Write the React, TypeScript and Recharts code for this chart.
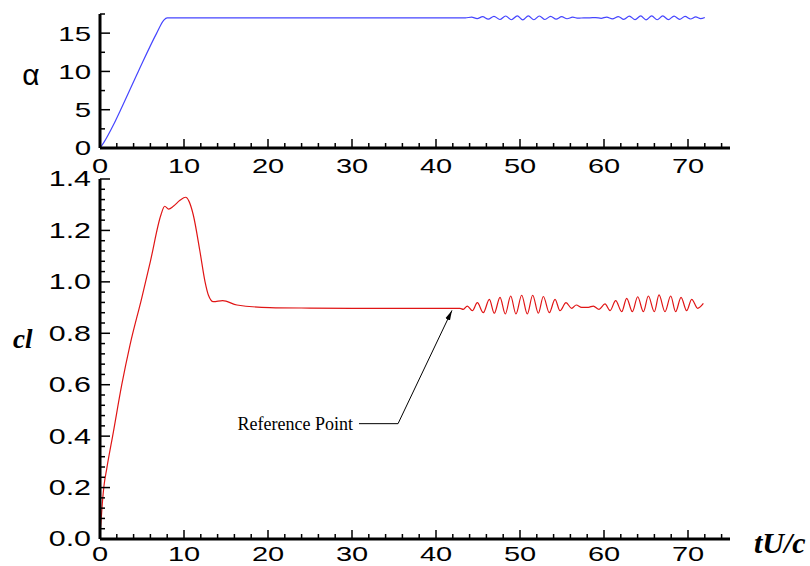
import React from 'react';
import { LineChart, Line, XAxis, YAxis, ReferenceLine, Label } from 'recharts';

// ---- data: angle of attack alpha vs tU/c ----
const alphaT = [0, 0.5, 1.59, 2.46, 4.56, 6.75, 7.6, 8.0, 20, 30, 40, 43.5,
  44.24, 44.9, 45.55, 46.22, 46.9, 47.6, 48.29, 48.98, 49.68, 50.33,
  50.99, 51.65, 52.3, 52.97, 53.65, 54.3, 54.96, 55.6, 56.27, 56.95,
  57.6, 58.3, 59.0, 59.66, 60.32, 61.0, 61.71, 62.36, 63.02, 63.7,
  64.37, 65.0, 65.68, 66.33, 66.99, 67.66, 68.34, 69.0, 69.65, 70.3,
  70.92, 71.5, 72.0];
const alphaV = [0, 0.8, 3.0, 5, 10, 15, 16.7, 17, 17, 17, 17, 17,
  17.08, 16.9, 17.15, 16.83, 17.2, 16.78, 17.24, 16.75, 17.26, 16.74,
  17.26, 16.75, 17.24, 16.78, 17.2, 16.82, 17.15, 16.88, 17.08, 16.95,
  17.0, 17.0, 17.03, 16.94, 17.1, 16.87, 17.17, 16.8, 17.22, 16.76,
  17.25, 16.74, 17.26, 16.75, 17.25, 16.77, 17.22, 16.8, 17.18, 16.85,
  17.12, 16.9, 17.05];

// ---- data: lift coefficient cl vs tU/c ----
const clT = [0, 0.1, 0.32, 0.48, 0.8, 1.59, 2.58, 3.57, 4.96, 6.0,
  7.26, 7.7, 8.17, 8.73, 9.52, 10.2, 10.6, 11.1, 11.9, 12.5,
  12.9, 13.5, 14.6, 16.3, 20.2, 25, 30, 35, 40, 42.86,
  43.25, 43.73, 44.33, 44.92, 45.63, 46.35, 46.94, 47.62, 48.25, 48.89,
  49.52, 50.2, 50.87, 51.51, 52.18, 52.78, 53.49, 54.17, 54.76, 55.48,
  56.15, 56.7, 57.34, 58.14, 58.73, 59.41, 60.12, 60.72, 61.39, 62.11,
  62.7, 63.38, 64.01, 64.69, 65.28, 65.99, 66.55, 67.26, 67.94, 68.53,
  69.17, 69.84, 70.44, 71.15, 71.83];
const clV = [0.02, 0.06, 0.156, 0.208, 0.273, 0.416, 0.598, 0.754, 0.936, 1.08,
  1.261, 1.294, 1.283, 1.294, 1.317, 1.329, 1.313, 1.261, 1.118, 1.001,
  0.949, 0.923, 0.927, 0.91, 0.9, 0.898, 0.897, 0.897, 0.897, 0.897,
  0.893, 0.906, 0.888, 0.919, 0.88, 0.932, 0.878, 0.94, 0.875, 0.945,
  0.875, 0.948, 0.875, 0.948, 0.878, 0.943, 0.88, 0.932, 0.888, 0.919,
  0.897, 0.91, 0.901, 0.901, 0.906, 0.893, 0.914, 0.888, 0.927, 0.884,
  0.936, 0.884, 0.942, 0.884, 0.945, 0.884, 0.949, 0.884, 0.945, 0.884,
  0.94, 0.888, 0.932, 0.897, 0.916];

// ---- ticks ----
const timeTicks = [0, 2, 4, 6, 8, 10, 12, 14, 16, 18, 20, 22, 24, 26, 28, 30, 32, 34, 36, 38,
  40, 42, 44, 46, 48, 50, 52, 54, 56, 58, 60, 62, 64, 66, 68, 70, 72, 74];
const timeMajor = [0, 10, 20, 30, 40, 50, 60, 70];
const alphaTicks = [0, 2.5, 5, 7.5, 10, 12.5, 15, 17.5];
const alphaMajor = [0, 5, 10, 15];
const clTicks = [0, 0.04, 0.08, 0.12, 0.16, 0.2, 0.24, 0.28, 0.32, 0.36, 0.4, 0.44, 0.48,
  0.52, 0.56, 0.6, 0.64, 0.68, 0.72, 0.76, 0.8, 0.84, 0.88, 0.92, 0.96, 1.0, 1.04, 1.08,
  1.12, 1.16, 1.2, 1.24, 1.28, 1.32, 1.36, 1.4];
const clMajor = [0, 0.2, 0.4, 0.6, 0.8, 1.0, 1.2, 1.4];

// reference point annotation (data coordinates)
const refText = 'Reference Point';
const refLeader = [{ x: 30.83, y: 0.4485 }, { x: 35.48, y: 0.4485 }];
const refArrow = [{ x: 35.48, y: 0.4485 }, { x: 41.9, y: 0.889 }];

const alphaData = alphaT.map((t, i) => ({ t, v: alphaV[i] }));
const clData = clT.map((t, i) => ({ t, v: clV[i] }));

const SANS = '"Liberation Sans", Arial, Helvetica, sans-serif';
const SERIF = '"Liberation Serif", "Times New Roman", serif';

const isIn = (list: number[], v: number) => list.some((m) => Math.abs(m - v) < 1e-9);

const makeXTick = (majors: number[], fontSize: number, labelDy: number, sx: number) => (props: any) => {
  const { x, y, payload } = props;
  const v = payload.value;
  const major = isIn(majors, v);
  return (
    <g>
      <line x1={x} x2={x} y1={y} y2={y - (major ? 9 : 5)} stroke="#000" strokeWidth={1.5} />
      {major && (
        <text transform={`translate(${x},${y + labelDy}) scale(${sx},1)`} textAnchor="middle"
          fontSize={fontSize} fontFamily={SANS} fill="#000">{v}</text>
      )}
    </g>
  );
};

const makeYTick = (majors: number[], fontSize: number, sx: number, fmt: (v: number) => string) => (props: any) => {
  const { x, y, payload } = props;
  const v = payload.value;
  const major = isIn(majors, v);
  return (
    <g>
      <line x1={x} x2={x + (major ? 10 : 5)} y1={y} y2={y} stroke="#000" strokeWidth={1.5} />
      {major && (
        <text transform={`translate(${x - 9},${y}) scale(${sx},1)`} textAnchor="end"
          dominantBaseline="central" fontSize={fontSize} fontFamily={SANS} fill="#000">{fmt(v)}</text>
      )}
    </g>
  );
};

const axisLine = { stroke: '#000', strokeWidth: 3 };

export default function App() {
  return (
    <div style={{ position: 'absolute', left: 0, top: 0, width: 810, height: 566, background: '#fff', overflow: 'hidden' }}>
      <svg width={0} height={0} style={{ position: 'absolute' }}>
        <defs>
          <marker id="refArrowHead" markerWidth={11} markerHeight={6} refX={10} refY={3} orient="auto" markerUnits="userSpaceOnUse">
            <path d="M0,0.5 L10,3 L0,5.5 z" fill="#000" />
          </marker>
        </defs>
      </svg>

      <div style={{ position: 'absolute', left: 0, top: 160 }}>
        <LineChart width={810} height={406} data={clData} margin={{ top: 19, right: 80, bottom: 2, left: 40 }}>
          <XAxis type="number" dataKey="t" domain={[0, 75]} ticks={timeTicks} interval={0}
            tickSize={0} tickMargin={0} tickLine={false} axisLine={axisLine} height={25}
            tick={makeXTick(timeMajor, 21, 21.5, 1.38)} allowDataOverflow />
          <YAxis type="number" domain={[0, 1.4]} ticks={clTicks} interval={0} width={60}
            tickSize={0} tickMargin={0} tickLine={false} axisLine={axisLine}
            tick={makeYTick(clMajor, 22, 1.38, (v) => v.toFixed(1))} allowDataOverflow />
          <Line type="monotone" dataKey="v" stroke="#e01515" strokeWidth={1.2} dot={false} isAnimationActive={false} />
          <ReferenceLine segment={refLeader} stroke="#000" strokeWidth={1}>
            <Label value={refText} position="left" offset={6} fontSize={18} fontFamily={SERIF} fill="#000" />
          </ReferenceLine>
          <ReferenceLine segment={refArrow} stroke="#000" strokeWidth={1}
            shape={(p: any) => (
              <line x1={p.x1} y1={p.y1} x2={p.x2} y2={p.y2} stroke="#000" strokeWidth={1} markerEnd="url(#refArrowHead)" />
            )} />
        </LineChart>
      </div>

      <div style={{ position: 'absolute', left: 0, top: 0 }}>
        <LineChart width={810} height={185} data={alphaData} margin={{ top: 14, right: 80, bottom: 17, left: 40 }}>
          <XAxis type="number" dataKey="t" domain={[0, 75]} ticks={timeTicks} interval={0}
            tickSize={0} tickMargin={0} tickLine={false} axisLine={axisLine} height={20}
            tick={makeXTick(timeMajor, 21, 25, 1.38)} allowDataOverflow />
          <YAxis type="number" domain={[0, 17.5]} ticks={alphaTicks} interval={0} width={60}
            tickSize={0} tickMargin={0} tickLine={false} axisLine={axisLine}
            tick={makeYTick(alphaMajor, 21, 1.4, (v) => String(v))} allowDataOverflow />
          <Line type="monotone" dataKey="v" stroke="#4545ff" strokeWidth={1.2} dot={false} isAnimationActive={false} />
        </LineChart>
      </div>

      <svg width={810} height={566} style={{ position: 'absolute', left: 0, top: 0, pointerEvents: 'none' }}>
        <text x={31} y={85} textAnchor="middle" fontSize={30} fontFamily={SANS} fill="#000">α</text>
        <text x={13} y={348} fontSize={27} fontFamily={SERIF} fontWeight="bold" fontStyle="italic" fill="#000">cl</text>
        <text x={754} y={553} fontSize={30} fontFamily={SERIF} fontWeight="bold" fontStyle="italic" fill="#000">tU/c</text>
      </svg>
    </div>
  );
}
